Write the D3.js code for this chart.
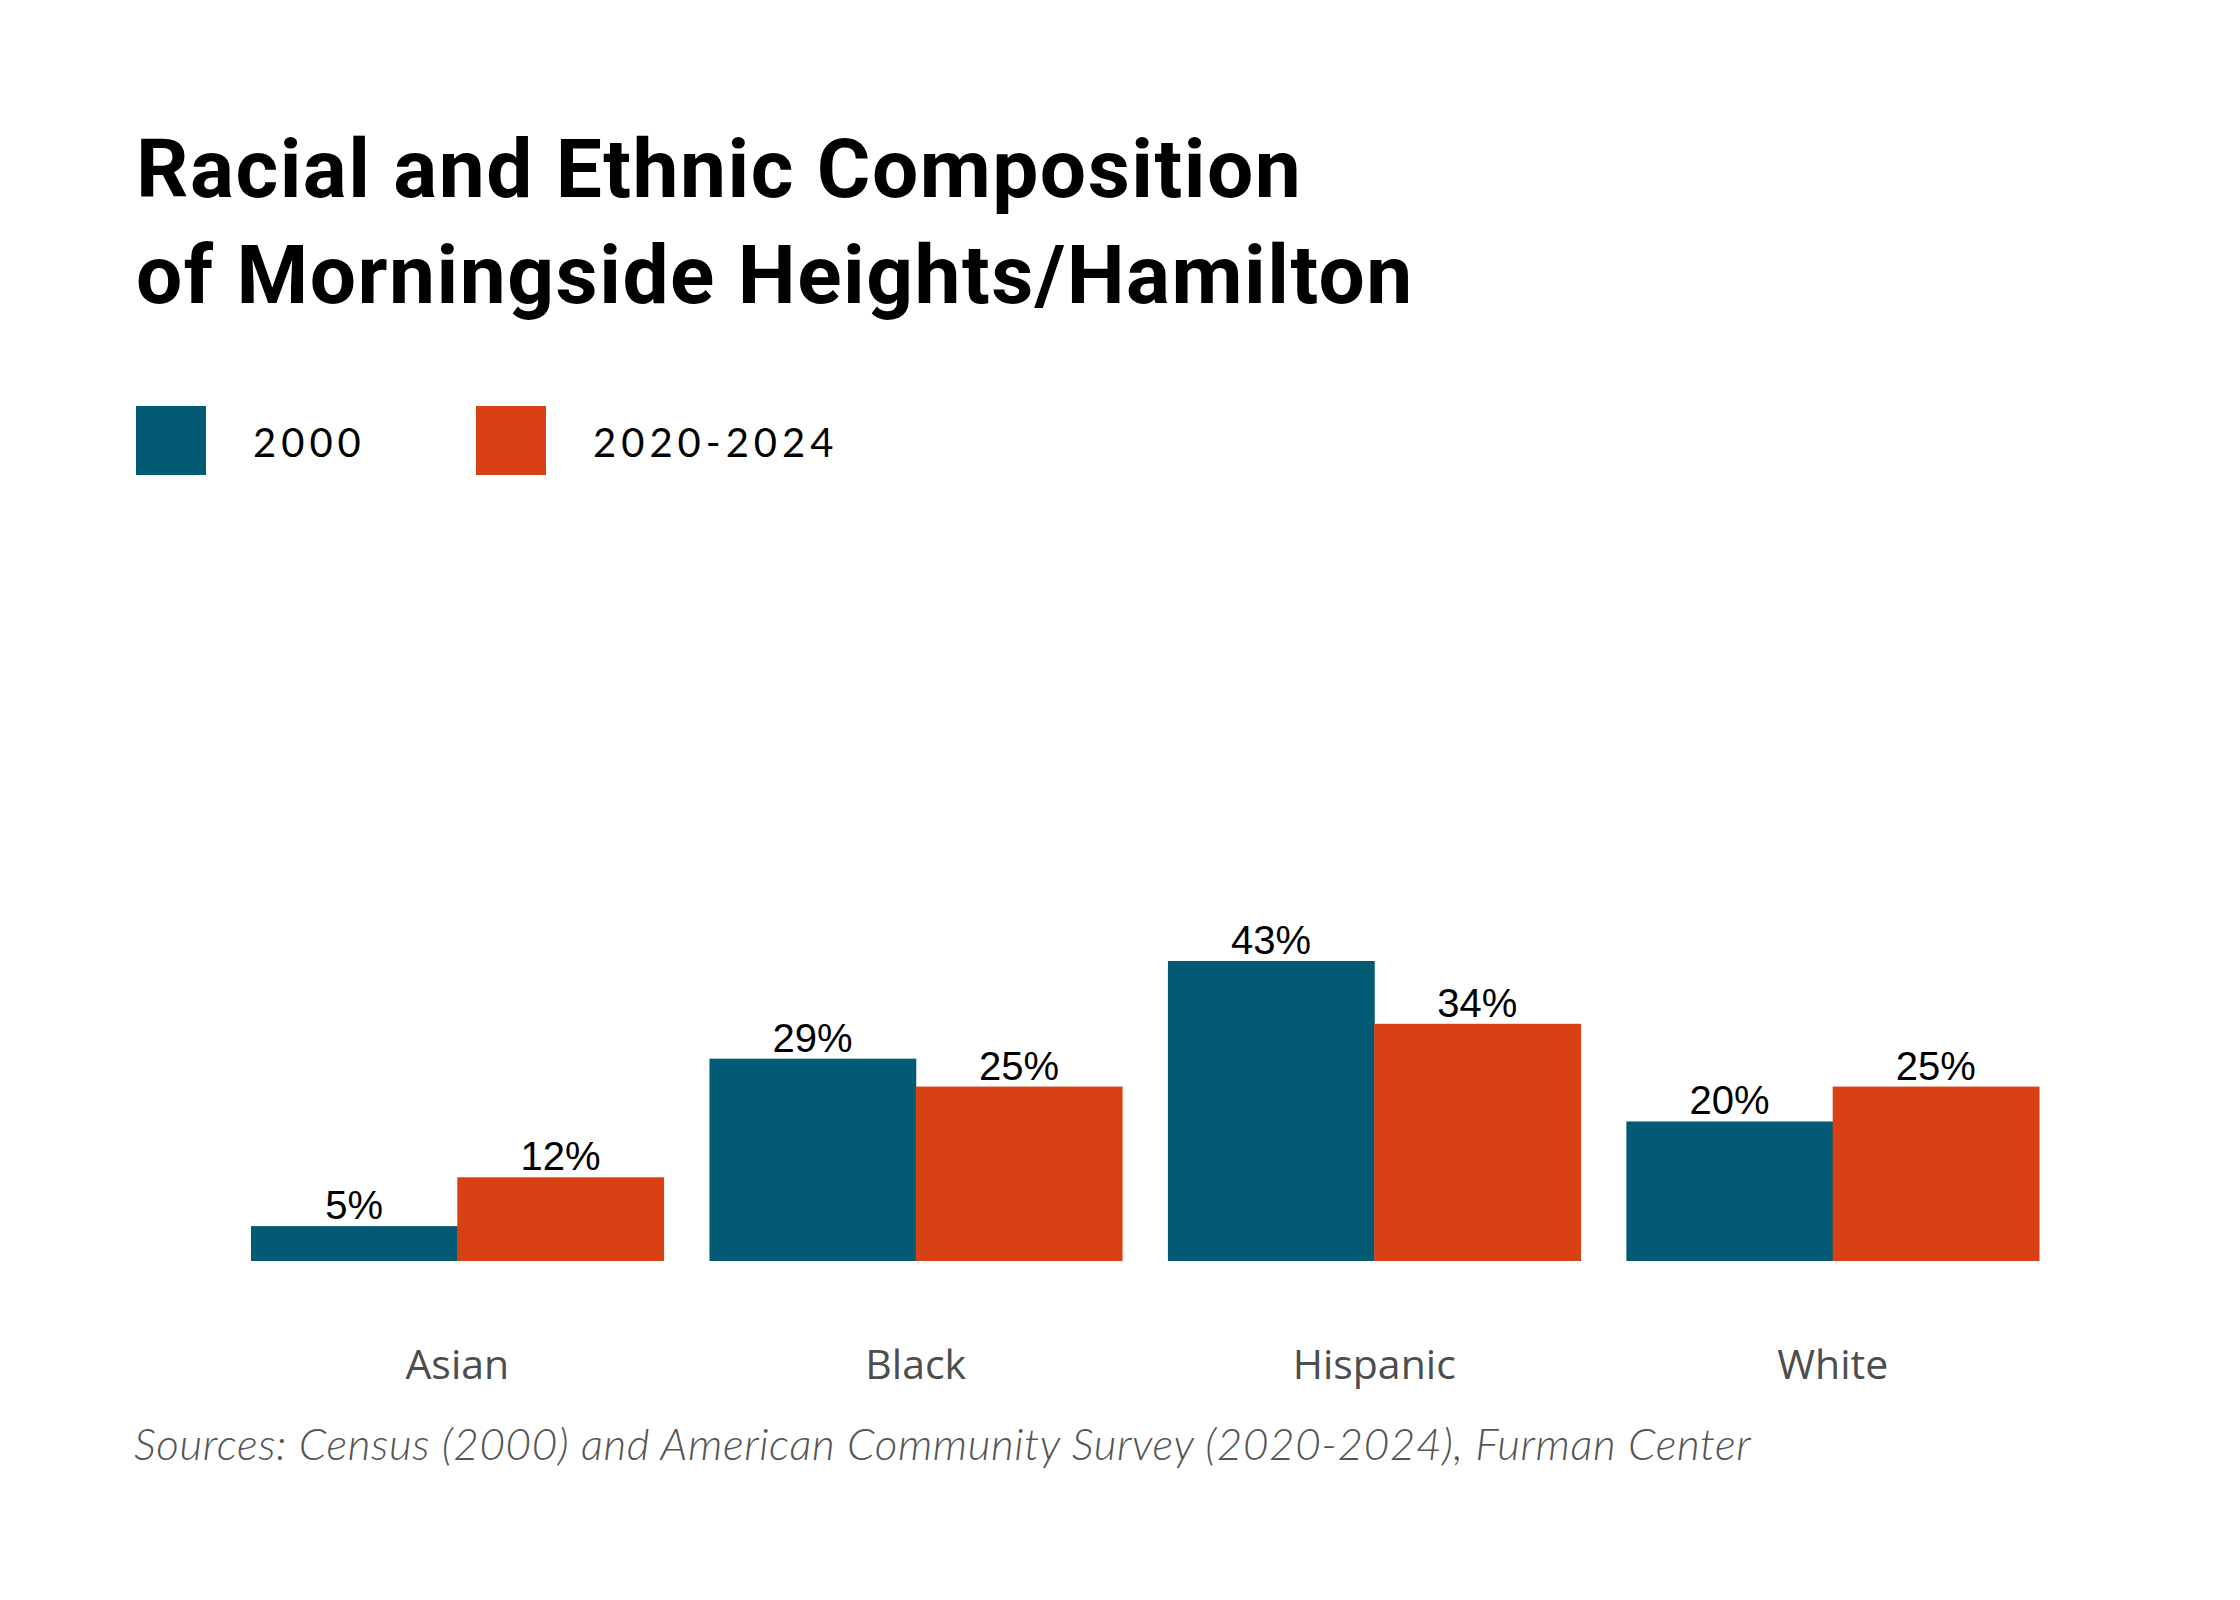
<!DOCTYPE html>
<html>
<head>
<meta charset="utf-8">
<script src="https://cdn.jsdelivr.net/npm/d3@7"></script>
<style>
  html, body { margin: 0; padding: 0; background: #fff; }
  svg { display: block; }
</style>
</head>
<body>
<svg id="chart" width="2240" height="1600"></svg>
<script>
// data
const categories = ['Asian', 'Black', 'Hispanic', 'White'];
const series = ['2000', '2020-2024'];
const values2000 = [5, 29, 43, 20];
const values2024 = [12, 25, 34, 25];
const colors = ['#025a75', '#d74114'];
const titleLines = ['Racial and Ethnic Composition', 'of Morningside Heights/Hamilton'];
const sourceText = 'Sources: Census (2000) and American Community Survey (2020-2024), Furman Center';

const W = 2240, H = 1600;
const svg = d3.select('#chart');

svg.append('rect').attr('width', W).attr('height', H).attr('fill', '#fff');

// title
svg.append('g').selectAll('text')
  .data(titleLines)
  .enter()
  .append('text')
  .attr('x', 136)
  .attr('y', (d, i) => 197 + i * 106)
  .attr('font-family', 'Roboto, sans-serif')
  .attr('font-weight', 700)
  .attr('font-size', 82)
  .attr('letter-spacing', 1.5)
  .attr('fill', '#000')
  .text(d => d);

// legend
const legendX = [136, 476];
const legend = svg.append('g').selectAll('g')
  .data(series)
  .enter()
  .append('g')
  .attr('transform', (d, i) => 'translate(' + legendX[i] + ',406)');

legend.append('rect')
  .attr('width', 70)
  .attr('height', 69)
  .attr('fill', (d, i) => colors[i]);

legend.append('text')
  .attr('x', 117)
  .attr('y', 51)
  .attr('font-family', 'Lato, sans-serif')
  .attr('font-size', 40)
  .attr('letter-spacing', 5)
  .attr('fill', '#000')
  .text(d => d);

// scales
const baseline = 1261;
const x0 = d3.scaleBand()
  .domain(categories)
  .range([251, 2039])
  .paddingInner(0.1)
  .paddingOuter(0);

const x1 = d3.scaleBand()
  .domain(series)
  .range([0, x0.bandwidth()]);

const y = d3.scaleLinear()
  .domain([0, 43])
  .range([baseline, baseline - 300]);

const rows = categories.map((c, i) => ({
  cat: c,
  vals: [
    {key: series[0], v: values2000[i], c: colors[0]},
    {key: series[1], v: values2024[i], c: colors[1]}
  ]
}));

const groups = svg.append('g').selectAll('g')
  .data(rows)
  .enter()
  .append('g')
  .attr('transform', d => 'translate(' + x0(d.cat) + ',0)');

groups.selectAll('rect')
  .data(d => d.vals)
  .enter()
  .append('rect')
  .attr('x', d => x1(d.key))
  .attr('y', d => y(d.v))
  .attr('width', x1.bandwidth() + 0.5)
  .attr('height', d => baseline - y(d.v))
  .attr('fill', d => d.c);

groups.selectAll('text')
  .data(d => d.vals)
  .enter()
  .append('text')
  .attr('x', d => x1(d.key) + x1.bandwidth() / 2)
  .attr('y', d => y(d.v) - 7)
  .attr('text-anchor', 'middle')
  .attr('font-family', '"Liberation Sans", Arial, sans-serif')
  .attr('font-size', 40)
  .attr('fill', '#000')
  .text(d => d.v + '%');

// category axis, no line or ticks
const xAxis = svg.append('g')
  .attr('transform', 'translate(0,' + baseline + ')')
  .call(d3.axisBottom(x0).tickSize(0).tickPadding(89));

xAxis.select('.domain').remove();
xAxis.selectAll('text')
  .attr('font-family', '"Open Sans", sans-serif')
  .attr('font-size', 41)
  .attr('fill', '#4d4d4d');

// source
svg.append('text')
  .attr('x', 134)
  .attr('y', 1460)
  .attr('font-family', 'Lato, sans-serif')
  .attr('font-style', 'italic')
  .attr('font-weight', 300)
  .attr('font-size', 44)
  .attr('letter-spacing', 0.6)
  .attr('fill', '#555')
  .text(sourceText);
</script>
</body>
</html>
